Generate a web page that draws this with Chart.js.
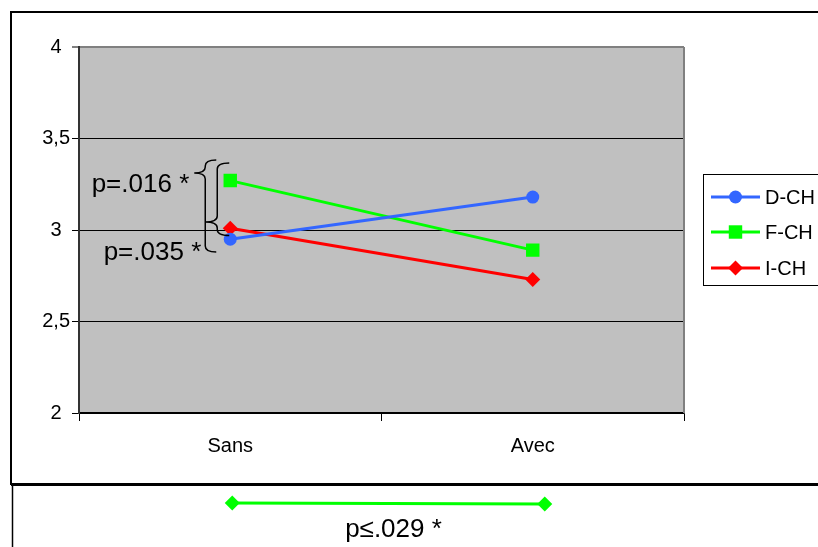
<!DOCTYPE html>
<html>
<head>
<meta charset="utf-8">
<script src="https://cdn.jsdelivr.net/npm/chart.js@4.4.1/dist/chart.umd.min.js"></script>
<style>
html,body{margin:0;padding:0;background:#fff;}
#wrap{position:relative;width:818px;height:547px;}
</style>
</head>
<body>
<div id="wrap"><canvas id="c" width="818" height="547"></canvas></div>
<script>
const categories = ['Sans', 'Avec'];
const seriesNames = ['D-CH', 'F-CH', 'I-CH'];
const dCH = [2.95, 3.18];
const fCH = [3.27, 2.89];
const iCH = [3.01, 2.73];
const yMin = 2, yMax = 4, yStep = 0.5;
const sigLabels = ['p=.016 *', 'p=.035 *', 'p\u2264.029 *'];
// brace spans in data units: [top, tip, bottom]
const brace1 = [3.383, 3.311, 2.880];
const brace2 = [3.366, 3.044, 2.970];

const colors = ['#3366FF', '#00FF00', '#FF0000'];
const styles = ['circle', 'rect', 'rectRot'];
const radii = [6.5, 9.5, 7.5];
const FONT = '"Liberation Sans", Arial, sans-serif';

function brace(ctx, xv, y1, yt, y2, rx, ry) {
  ctx.beginPath();
  ctx.moveTo(xv + rx, y1);
  ctx.quadraticCurveTo(xv, y1, xv, y1 + ry);
  ctx.lineTo(xv, yt - ry);
  ctx.quadraticCurveTo(xv, yt, xv - rx, yt);
  ctx.quadraticCurveTo(xv, yt, xv, yt + ry);
  ctx.lineTo(xv, y2 - ry);
  ctx.quadraticCurveTo(xv, y2, xv + rx, y2);
  ctx.stroke();
}

function marker(ctx, style, x, y, r, color) {
  ctx.save();
  ctx.fillStyle = color;
  ctx.beginPath();
  if (style === 'circle') {
    ctx.arc(x, y, r, 0, Math.PI * 2);
  } else if (style === 'rect') {
    const s = r * Math.SQRT1_2;
    ctx.rect(x - s, y - s, 2 * s, 2 * s);
  } else {
    ctx.moveTo(x, y - r); ctx.lineTo(x + r, y); ctx.lineTo(x, y + r); ctx.lineTo(x - r, y); ctx.closePath();
  }
  ctx.fill();
  ctx.restore();
}

const deco = {
  id: 'deco',
  beforeDraw(chart) {
    const ctx = chart.ctx, a = chart.chartArea;
    ctx.save();
    ctx.fillStyle = '#fff';
    ctx.fillRect(0, 0, chart.width, chart.height);
    ctx.fillStyle = '#C0C0C0';
    ctx.fillRect(a.left, a.top, a.right - a.left, a.bottom - a.top);
    ctx.restore();
  },
  beforeDatasetsDraw(chart) {
    const ctx = chart.ctx, a = chart.chartArea;
    ctx.save();
    ctx.strokeStyle = '#808080';
    ctx.lineWidth = 2;
    ctx.beginPath();
    ctx.moveTo(a.right, a.top);
    ctx.lineTo(a.right, a.bottom);
    ctx.stroke();
    ctx.restore();
  },
  afterDraw(chart) {
    const ctx = chart.ctx;
    const xs = chart.scales.x, ys = chart.scales.y;
    const x0 = xs.getPixelForValue(0), x1 = xs.getPixelForValue(1);
    ctx.save();
    // braces
    ctx.strokeStyle = '#000';
    ctx.lineWidth = 1.5;
    brace(ctx, x0 - 25, ys.getPixelForValue(brace1[0]), ys.getPixelForValue(brace1[1]), ys.getPixelForValue(brace1[2]), 11, 6);
    brace(ctx, x0 - 13, ys.getPixelForValue(brace2[0]), ys.getPixelForValue(brace2[1]), ys.getPixelForValue(brace2[2]), 12, 6);
    // significance texts
    ctx.fillStyle = '#000';
    ctx.font = '26px ' + FONT;
    ctx.textBaseline = 'middle';
    ctx.textAlign = 'right';
    ctx.fillText(sigLabels[0], x0 - 41, ys.getPixelForValue(brace1[1]) + 12);
    ctx.fillText(sigLabels[1], x0 - 29, ys.getPixelForValue(2.89) + 3);

    // outer boxes
    ctx.strokeStyle = '#000';
    ctx.lineWidth = 2;
    ctx.beginPath();
    ctx.moveTo(840, 12); ctx.lineTo(11, 12); ctx.lineTo(11, 484); ctx.lineTo(840, 484);
    ctx.stroke();
    ctx.lineWidth = 3;
    ctx.beginPath(); ctx.moveTo(11, 484.5); ctx.lineTo(840, 484.5); ctx.stroke();
    ctx.lineWidth = 1.5;
    ctx.beginPath(); ctx.moveTo(12.5, 484); ctx.lineTo(12.5, 560); ctx.stroke();

    // legend
    ctx.lineWidth = 1;
    ctx.strokeStyle = '#000';
    ctx.strokeRect(703.5, 174.5, 140, 111);
    ctx.font = '20px ' + FONT;
    ctx.textAlign = 'left';
    const ly = [197, 232, 268];
    chart.data.datasets.forEach((ds, i) => {
      ctx.strokeStyle = ds.borderColor;
      ctx.lineWidth = 3;
      ctx.beginPath(); ctx.moveTo(711, ly[i]); ctx.lineTo(760, ly[i]); ctx.stroke();
      marker(ctx, styles[i], 735.5, ly[i], radii[i], ds.borderColor);
      ctx.fillStyle = '#000';
      ctx.fillText(ds.label, 765, ly[i] + 1);
    });

    // bottom significance bar (F-CH)
    const by = 503;
    ctx.strokeStyle = colors[1];
    ctx.lineWidth = 3;
    ctx.beginPath(); ctx.moveTo(x0 + 2, by); ctx.lineTo(x1 + 12, by + 1); ctx.stroke();
    marker(ctx, 'rectRot', x0 + 2, by, 7.5, colors[1]);
    marker(ctx, 'rectRot', x1 + 12, by + 1, 7.5, colors[1]);
    ctx.fillStyle = '#000';
    ctx.font = '26px ' + FONT;
    ctx.textAlign = 'center';
    ctx.fillText(sigLabels[2], (x0 + x1) / 2 + 12, 530);
    ctx.restore();
  }
};

const seriesData = [dCH, fCH, iCH];
new Chart(document.getElementById('c'), {
  type: 'line',
  data: {
    labels: categories,
    datasets: seriesNames.map((n, i) => ({
      label: n,
      data: seriesData[i],
      borderColor: colors[i],
      backgroundColor: colors[i],
      borderWidth: 3,
      pointStyle: styles[i],
      pointRadius: radii[i],
      pointHoverRadius: radii[i],
      pointBorderWidth: 0,
      tension: 0,
      fill: false
    }))
  },
  options: {
    responsive: false,
    animation: false,
    devicePixelRatio: 1,
    layout: { padding: { top: 47, right: 134, left: 0, bottom: 0 } },
    plugins: { legend: { display: false }, title: { display: false }, tooltip: { enabled: false } },
    scales: {
      x: {
        offset: true,
        afterFit(s) { s.height = 134; },
        grid: { offset: true, drawOnChartArea: false, drawTicks: true, tickLength: 8, color: '#000', tickWidth: 1 },
        border: { display: true, color: '#000', width: 1.5 },
        ticks: { color: '#000', font: { family: FONT, size: 20 }, padding: 13 }
      },
      y: {
        min: yMin, max: yMax,
        afterFit(s) { s.width = 79; },
        grid: {
          color: (c) => (c.tick && c.tick.value === yMax) ? '#808080' : '#000',
          lineWidth: (c) => (c.tick && c.tick.value === yMax) ? 2 : 1,
          tickColor: '#000', tickLength: 7, tickWidth: 1
        },
        border: { display: true, color: '#333', width: 2 },
        ticks: {
          stepSize: yStep, color: '#000', crossAlign: 'center', padding: 2,
          font: { family: FONT, size: 20 },
          callback: (v) => String(v).replace('.', ',')
        }
      }
    }
  },
  plugins: [deco]
});
</script>
</body>
</html>
